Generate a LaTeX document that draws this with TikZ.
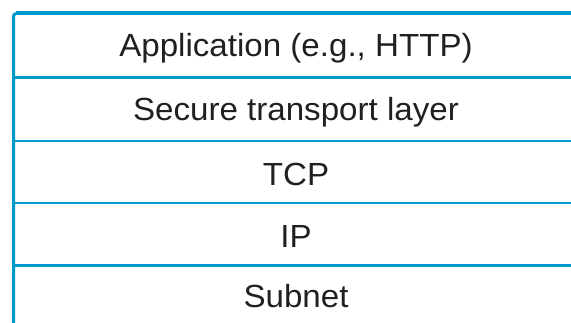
\documentclass[tikz,border=0pt]{standalone}
\usepackage{fontspec}
\setmainfont{Liberation Sans}[FakeStretch=1.035]
\definecolor{lineblue}{RGB}{0,153,206}
\definecolor{txtcol}{RGB}{35,31,32}
\begin{document}
\begin{tikzpicture}[x=1pt,y=1pt,
  layertext/.style={anchor=base, font=\fontsize{32}{38}\selectfont, text=txtcol, inner sep=0pt},
  sepline/.style={draw=lineblue, line width=2.2pt}]
\useasboundingbox (0,0) rectangle (571,322);
\begin{scope}
\clip (0,0) rectangle (571,322);
\draw[lineblue, line width=3pt, rounded corners=3pt] (13.5,-10) -- (13.5,308.5) -- (600,308.5);
\draw[lineblue, line width=4pt] (16,308.5) -- (600,308.5);
\draw[sepline] (13.5,244.5) -- (600,244.5);
\draw[sepline] (13.5,181) -- (600,181);
\draw[sepline] (13.5,119) -- (600,119);
\draw[sepline] (13.5,56.5) -- (600,56.5);
\end{scope}
\node[layertext] (app) at (296,265) {Application (e.g., HTTP)};
\node[layertext] (sec) at (296,201) {Secure transport layer};
\node[layertext] (tcp) at (296,137) {TCP};
\node[layertext] (ip) at (296,75) {IP};
\node[layertext] (sub) at (296,15) {Subnet};
\end{tikzpicture}
\end{document}
